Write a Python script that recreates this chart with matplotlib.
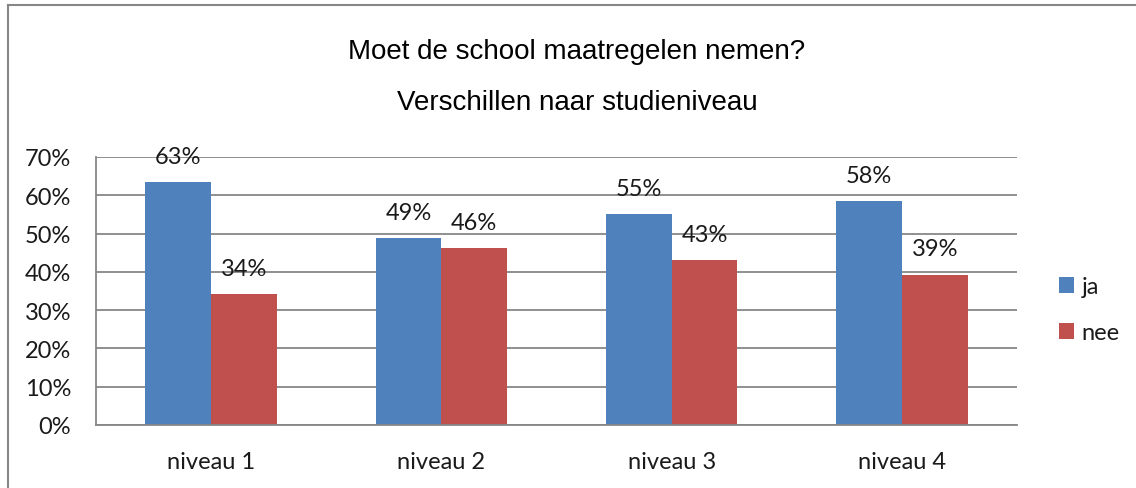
import numpy as np
import matplotlib.pyplot as plt
from matplotlib.lines import Line2D
from matplotlib.ticker import FuncFormatter

CATEGORIES = ['niveau 1', 'niveau 2', 'niveau 3', 'niveau 4']
JA = [63.4, 48.8, 55.1, 58.4]
NEE = [34.2, 46.2, 43.1, 39.2]
SERIES = ['ja', 'nee']

BLUE = '#4F81BD'
RED = '#C0504D'
GRID = '#878787'
TEXT = '#1a1a1a'
LABEL_FONT = ['Lato', 'DejaVu Sans']
TITLE_FONT = ['Liberation Sans', 'DejaVu Sans']
FS = 17


def main():
    fig = plt.figure(figsize=(11.36, 4.89), dpi=100)
    ax = fig.add_axes([96 / 1136, 63 / 489, 921 / 1136, 268 / 489])

    x = np.arange(len(CATEGORIES))
    width = 1 / 3.5
    bars_ja = ax.bar(x - width / 2, JA, width, color=BLUE, label=SERIES[0], zorder=2)
    bars_nee = ax.bar(x + width / 2, NEE, width, color=RED, label=SERIES[1], zorder=2)

    for bars, values in ((bars_ja, JA), (bars_nee, NEE)):
        for bar, v in zip(bars, values):
            ax.annotate(f'{v:.0f}%', (bar.get_x() + bar.get_width() / 2, v),
                        xytext=(0, 14), textcoords='offset points',
                        ha='center', va='baseline', fontsize=FS, family=LABEL_FONT,
                        color=TEXT, zorder=3)

    ax.set_xlim(-0.5, len(CATEGORIES) - 0.5)
    ax.set_ylim(0, 70)
    ax.set_yticks(np.arange(0, 71, 10))
    ax.yaxis.set_major_formatter(FuncFormatter(lambda v, _: f'{v:.0f}%'))
    ax.set_xticks(x)
    ax.set_xticklabels(CATEGORIES)
    ax.tick_params(axis='both', length=0, labelsize=FS, labelcolor=TEXT)
    ax.tick_params(axis='y', pad=18)
    ax.tick_params(axis='x', pad=19)
    for lab in ax.get_xticklabels() + ax.get_yticklabels():
        lab.set_family(LABEL_FONT)

    ax.grid(axis='y', color=GRID, linewidth=1.3, zorder=0)
    ax.set_axisbelow(True)
    for side in ('top', 'right'):
        ax.spines[side].set_visible(False)
    for side in ('left', 'bottom'):
        ax.spines[side].set_color(GRID)
        ax.spines[side].set_linewidth(1.3)

    leg = ax.legend(loc='center left', bbox_to_anchor=(1.0455, 0.43), frameon=False,
                    borderaxespad=0, borderpad=0,
                    handlelength=0.65, handleheight=0.65, handletextpad=0.3,
                    labelspacing=1.05, prop={'family': LABEL_FONT, 'size': FS})
    for t in leg.get_texts():
        t.set_color(TEXT)

    fig.text(577 / 1136, 1 - 52 / 489, 'Moet de school maatregelen nemen?',
             ha='center', va='center', fontsize=20, family=TITLE_FONT)
    fig.text(577 / 1136, 1 - 103 / 489, 'Verschillen naar studieniveau',
             ha='center', va='center', fontsize=20, family=TITLE_FONT)

    # chart frame: only the left and top edges fall inside the image
    fig.add_artist(Line2D([7.5 / 1136, 7.5 / 1136], [0, 1 - 6 / 489],
                          transform=fig.transFigure, color=GRID, linewidth=1.5))
    fig.add_artist(Line2D([7.5 / 1136, 1], [1 - 6 / 489, 1 - 6 / 489],
                          transform=fig.transFigure, color=GRID, linewidth=1.5))

    fig.savefig('out.png', dpi=100)


if __name__ == '__main__':
    main()
